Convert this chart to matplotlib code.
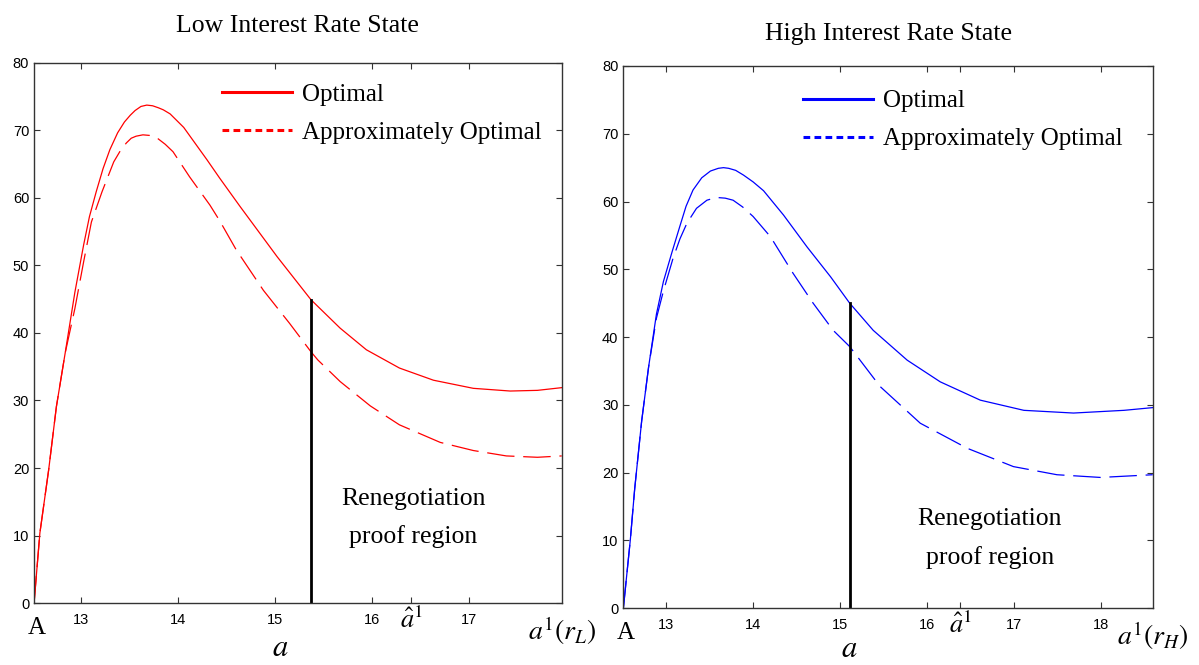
import matplotlib.pyplot as plt
from matplotlib.lines import Line2D

# ---- data ----
low_opt_x = [12.52, 12.58, 12.67, 12.75, 12.84, 12.94, 13.03, 13.09, 13.16, 13.23, 13.30, 13.38,
             13.45, 13.51, 13.56, 13.62, 13.68, 13.74, 13.80, 13.85, 13.92, 14.06, 14.19, 14.30,
             14.43, 14.64, 15.02, 15.37, 15.67, 15.94, 16.28, 16.63, 17.04, 17.42, 17.70, 17.95]
low_opt_y = [0, 10.4, 19.7, 29.1, 37.0, 46.0, 53.0, 57.2, 60.9, 64.3, 67.1, 69.6,
             71.2, 72.2, 72.9, 73.5, 73.7, 73.6, 73.3, 73.0, 72.4, 70.4, 67.8, 65.6,
             62.9, 58.7, 51.3, 44.9, 40.7, 37.5, 34.8, 33.0, 31.8, 31.4, 31.5, 31.9]

low_apx_x = [12.52, 12.58, 12.67, 12.75, 12.84, 12.94, 13.03, 13.11, 13.22, 13.34, 13.41, 13.47,
             13.52, 13.57, 13.64, 13.72, 13.78, 13.87, 13.95, 14.12, 14.33, 14.43, 14.60, 14.88,
             15.15, 15.37, 15.44, 15.67, 15.98, 16.28, 16.70, 17.04, 17.38, 17.70, 17.95]
low_apx_y = [0, 10.4, 19.7, 29.1, 37.0, 43.6, 50.5, 56.4, 60.9, 65.3, 67.0, 68.1,
             68.8, 69.1, 69.3, 69.2, 68.9, 67.9, 66.8, 63.1, 58.9, 56.6, 52.3, 46.3,
             41.4, 37.2, 36.0, 32.8, 29.2, 26.4, 23.8, 22.6, 21.8, 21.6, 21.8]

high_opt_x = [12.51, 12.59, 12.64, 12.72, 12.80, 12.89, 12.97, 13.07, 13.16, 13.23, 13.31, 13.41,
              13.51, 13.60, 13.66, 13.72, 13.80, 13.89, 14.00, 14.12, 14.35, 14.62, 14.89, 15.11,
              15.38, 15.77, 16.15, 16.61, 17.11, 17.68, 18.26, 18.59]
high_opt_y = [0, 10.1, 17.6, 27.6, 35.6, 43.4, 48.2, 52.6, 56.4, 59.3, 61.7, 63.5,
              64.5, 64.9, 65.0, 64.9, 64.6, 63.9, 62.9, 61.6, 58.0, 53.3, 48.9, 45.0,
              41.0, 36.6, 33.4, 30.7, 29.2, 28.8, 29.2, 29.6]

high_apx_x = [12.51, 12.59, 12.64, 12.72, 12.80, 12.89, 12.97, 13.08, 13.16, 13.24, 13.35, 13.47,
              13.58, 13.68, 13.77, 13.88, 14.00, 14.20, 14.46, 14.69, 14.92, 15.11, 15.46, 15.92,
              16.46, 16.99, 17.49, 17.99, 18.59]
high_apx_y = [0, 10.1, 17.6, 27.6, 35.6, 42.8, 46.8, 51.6, 54.5, 56.8, 59.0, 60.2,
              60.6, 60.5, 60.2, 59.2, 57.8, 54.8, 49.4, 45.0, 41.0, 38.6, 32.7, 27.3,
              23.6, 20.9, 19.7, 19.3, 19.7]

panels = [
    dict(title="Low Interest Rate State", color="#ff0000", opt=(low_opt_x, low_opt_y),
         apx=(low_apx_x, low_apx_y), xlim=(12.52, 17.95), ticks=[13, 14, 15, 16, 16.4, 17],
         line_x=15.37, line_top=44.9, ahat=16.4, end_label=r"$a^1(r_L)$",
         text_xy=(16.42, 12.6), a_x=15.05, title_pad=22, a_dy=-32,
         rect=[0.0284, 0.0928, 0.4401, 0.8132], leg_anchor=(0.356, 0.962)),
    dict(title="High Interest Rate State", color="#0000ff", opt=(high_opt_x, high_opt_y),
         apx=(high_apx_x, high_apx_y), xlim=(12.51, 18.59), ticks=[13, 14, 15, 16, 16.38, 17, 18],
         line_x=15.11, line_top=45.0, ahat=16.38, end_label=r"$a^1(r_H)$",
         text_xy=(16.72, 10.3), a_x=15.11, title_pad=19, a_dy=-29,
         rect=[0.5199, 0.0853, 0.4415, 0.8155], leg_anchor=(0.339, 0.956)),
]

plt.rcParams['mathtext.fontset'] = 'stix'
serif = 'Liberation Serif'
sans = 'Liberation Sans'

fig = plt.figure(figsize=(11.99, 6.65), dpi=100)

for p in panels:
    ax = fig.add_axes(p['rect'])
    c = p['color']
    ax.plot(*p['opt'], color=c, lw=0.9)
    ax.plot(*p['apx'], color=c, lw=0.9, dashes=(22, 7))
    ax.plot([p['line_x'], p['line_x']], [0, p['line_top']], color='black', lw=2)

    ax.set_xlim(*p['xlim'])
    ax.set_ylim(0, 80)
    ax.set_yticks(range(0, 81, 10))
    ax.set_xticks(p['ticks'])
    ax.set_xticklabels(['' if t == p['ahat'] else str(t) for t in p['ticks']])
    ax.tick_params(direction='in', top=True, right=True, length=4, width=0.8,
                   labelsize=10.5, colors='#333333')
    ax.tick_params(axis='x', pad=7)
    for lab in ax.get_xticklabels() + ax.get_yticklabels():
        lab.set_fontfamily(sans)
        lab.set_color('black')
    for s in ax.spines.values():
        s.set_color('#333333')
        s.set_linewidth(1)

    ax.set_title(p['title'], fontfamily=serif, fontsize=18.5, pad=p['title_pad'])

    handles = [Line2D([], [], color=c, lw=2.2),
               Line2D([], [], color=c, lw=2.2, dashes=(2.2, 1.4))]
    ax.legend(handles, ["Optimal", "Approximately Optimal"], loc='upper left',
              bbox_to_anchor=p['leg_anchor'], frameon=False, borderpad=0, borderaxespad=0,
              handlelength=2.8, handletextpad=0.42, labelspacing=0.62,
              prop=dict(family=serif, size=18))

    ax.text(*p['text_xy'], "Renegotiation\nproof region", ha='center', va='center',
            fontfamily=serif, fontsize=18.5, linespacing=1.85)

    bottom = ('data', 'axes fraction')
    ax.annotate("A", xy=(p['xlim'][0], 0), xycoords=bottom, xytext=(2, -18),
                textcoords='offset points', ha='center', va='center',
                fontfamily=serif, fontsize=18, annotation_clip=False)
    ax.annotate(r"$\hat{a}^1$", xy=(p['ahat'], 0), xycoords=bottom, xytext=(0, -13),
                textcoords='offset points', ha='center', va='center',
                fontsize=19, annotation_clip=False)
    ax.annotate(p['end_label'], xy=(1.0, 0), xycoords='axes fraction', xytext=(0, -20),
                textcoords='offset points', ha='center', va='center',
                fontsize=20, annotation_clip=False)
    ax.annotate(r"$a$", xy=(p['a_x'], 0), xycoords=bottom, xytext=(0, p['a_dy']),
                textcoords='offset points', ha='center', va='center',
                fontsize=22, annotation_clip=False)

fig.savefig("out.png", dpi=100)
